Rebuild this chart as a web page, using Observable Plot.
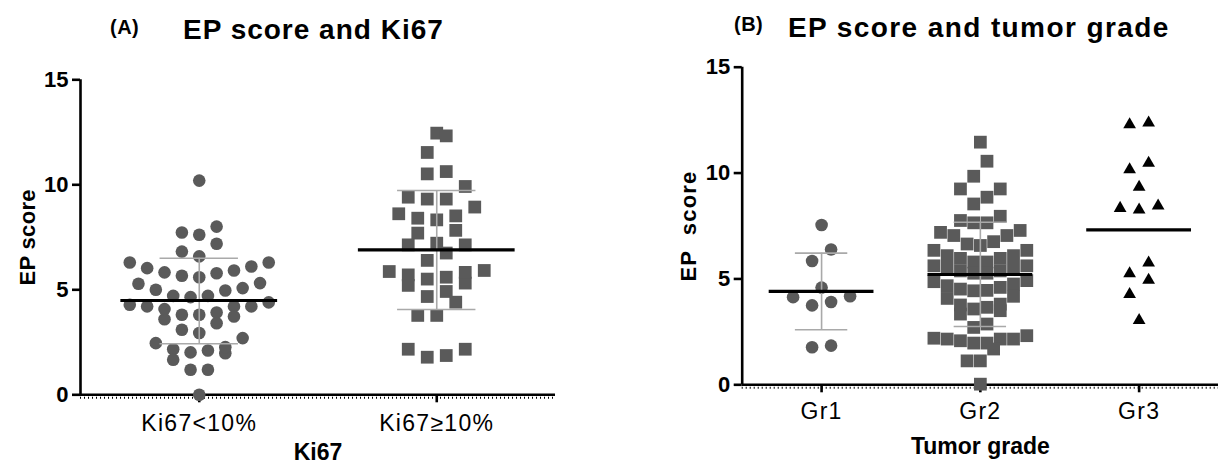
<!DOCTYPE html>
<html>
<head>
<meta charset="utf-8">
<script src="https://cdn.jsdelivr.net/npm/d3@7"></script>
<script src="https://cdn.jsdelivr.net/npm/@observablehq/plot@0.6"></script>
<style>
html, body { margin: 0; padding: 0; background: #fff; }
#wrap { position: relative; width: 1222px; height: 466px; overflow: hidden; font-family: "Liberation Sans", Arial, sans-serif; color: #000; }
.t { position: absolute; font-weight: bold; white-space: nowrap; line-height: 1; }
.panel { position: absolute; }
.panel g[aria-label="y-axis tick label"] { font-size: 22px; font-weight: bold; }
.panel g[aria-label="y-axis label"] { font-size: 22px; font-weight: bold; letter-spacing: 0.3px; }
.panel g[aria-label="x-axis tick label"] { font-size: 23px; letter-spacing: 1.3px; font-weight: normal; }
.panel g[aria-label="x-axis label"] { font-size: 23px; font-weight: bold; }
#pb g[aria-label="y-axis label"] { letter-spacing: 1.2px; }
</style>
</head>
<body>
<div id="wrap">
  <div class="t" style="left:110px;top:17px;font-size:20px;letter-spacing:0.5px">(A)</div>
  <div class="t" style="left:183px;top:16px;font-size:28px;letter-spacing:1px">EP score and Ki67</div>
  <div class="t" style="left:734px;top:14px;font-size:20px;letter-spacing:0.5px">(B)</div>
  <div class="t" style="left:788px;top:14px;font-size:28px;letter-spacing:1.4px">EP score and tumor grade</div>
  <div id="pa" class="panel" style="left:0px;top:60px"></div>
  <div id="pb" class="panel" style="left:620px;top:50px"></div>
</div>
<script>
// ---------- Panel A: EP score by Ki67 ----------
const ki67Groups = ["Ki67<10%", "Ki67≥10%"];
const ki67Low = [10.2, 7.73, 7.62, 8.01, 7.19, 6.82, 6.59, 6.30, 6.03, 5.79,
  5.67, 5.60, 5.83, 5.92, 6.11, 6.30, 5.29, 5.08, 4.97, 4.71,
  4.40, 4.65, 4.71, 5.00, 5.32, 4.21, 4.21, 3.92, 3.81, 3.60,
  3.41, 3.73, 3.81, 4.08, 4.21, 4.29, 2.94, 2.46, 2.11, 1.98,
  2.17, 2.27, 2.70, 3.10, 1.67, 2.02, 1.19, 1.19, 0.0];
const ki67High = [12.46, 12.33, 11.54, 10.63, 10.52, 9.92, 9.41, 9.32, 9.32, 8.94,
  8.62, 8.41, 8.33, 8.52, 7.83, 7.70, 7.22, 7.14, 7.14, 6.75,
  6.40, 5.87, 5.92, 5.60, 5.32, 5.51, 5.71, 5.83, 5.21, 4.92,
  4.68, 4.41, 3.78, 3.78, 2.17, 1.79, 1.87, 2.17];
const ki67Mean = [4.49, 6.90];
const ki67SdLow = [2.43, 4.06];
const ki67SdHigh = [6.50, 9.73];

// ---------- Panel B: EP score by tumor grade ----------
const gradeGroups = ["Gr1", "Gr2", "Gr3"];
const grade1 = [7.55, 6.39, 5.85, 4.59, 4.18, 3.91, 3.75, 4.14, 1.77, 1.85];
const grade2 = [11.46, 10.56, 9.85, 9.25, 9.25, 8.86, 8.54, 7.96, 7.65, 7.65,
  7.76, 7.20, 7.05, 7.05, 7.29, 6.76, 6.58, 6.65,
  6.35, 6.10, 5.97, 5.80, 5.80, 5.97, 6.10, 6.35,
  5.62, 5.50, 5.38, 5.27, 5.27, 5.38, 5.50, 5.62,
  4.92, 4.76, 4.60, 4.46, 4.44, 4.52, 4.68, 4.87,
  4.18, 3.77, 3.66, 3.50, 3.34, 3.58, 3.81, 4.08,
  2.87, 2.71, 2.32, 2.16, 2.16, 2.16, 2.20, 2.08, 1.97, 1.69, 1.97,
  1.13, 1.13, 0.03];
const grade3 = [12.29, 12.37, 10.47, 10.16, 9.34, 8.34, 8.26, 8.45, 5.76, 5.25, 4.94, 4.27, 3.04];
const gradeMean = [4.41, 5.21, 7.32];
const gradeSdLow = [2.60, 2.75, null];
const gradeSdHigh = [6.22, 7.68, null];

const yTicks = [0, 5, 10, 15];
const yMax = 15;

// Prism-like column scatter: sorted values grouped into rows, each row centred,
// lowest value in the middle and the others alternating outwards.
function spread(values, ky, stepPx) {
  const rowH = 17, maxGap = 19, minGap = 13.2, maxSpan = 0.585 * stepPx;
  const cap = Math.floor(maxSpan / minGap) + 1;
  const order = d3.range(values.length).sort((a, b) => values[a] - values[b]);
  const rows = [];
  let row = null;
  for (const i of order) {
    if (!row || row.length >= cap || (values[i] - values[row[0]]) * ky >= rowH) rows.push(row = []);
    row.push(i);
  }
  const nmax = d3.max(rows, r => r.length);
  const gap = nmax > 1 ? Math.min(maxGap, maxSpan / (nmax - 1)) : maxGap;
  const off = new Array(values.length);
  for (const I of rows) {
    const n = I.length;
    const slots = d3.range(n).map(k => (k - (n - 1) / 2) * gap)
      .sort((a, b) => Math.abs(a) - Math.abs(b) || a - b);
    I.forEach((i, k) => { off[i] = slots[k]; });
  }
  return off;
}

function panel(cfg) {
  const {groups, series, symbols, fills, radii, means, sdLow, sdHigh, yLabel, xLabel,
    width, height, ml, mr, mt, mb, tickPad, xLabelOffset, yLabelOffset} = cfg;
  const xDomain = [-0.5, groups.length - 0.5];
  const kx = (width - ml - mr) / (xDomain[1] - xDomain[0]);
  const ky = (height - mt - mb) / yMax;
  const points = series.flatMap((vals, g) => {
    const off = spread(vals, ky, kx);
    return vals.map((v, j) => ({g, v, x: g + off[j] / kx}));
  });
  const summary = groups.map((name, g) => ({g, mean: means[g], lo: sdLow[g], hi: sdHigh[g]}));
  const bars = summary.filter(d => d.lo != null);
  const cap = 0.165, half = 0.33, grey = "#a9a9a9";
  return Plot.plot({
    width, height,
    marginLeft: ml, marginRight: mr, marginTop: mt, marginBottom: mb,
    x: {domain: xDomain, axis: null},
    y: {domain: [0, yMax], axis: null},
    style: {fontFamily: '"Liberation Sans", Arial, sans-serif', fontSize: "22px", color: "#000", background: "#fff", overflow: "visible"},
    marks: [
      Plot.ruleX([xDomain[0]], {stroke: "#000", strokeWidth: 2.6}),
      Plot.ruleY([0], {stroke: "#000", strokeWidth: 2.6}),
      Plot.ruleY([0], {stroke: "#000", strokeWidth: 2, dy: 3, strokeDasharray: "1,3"}),
      Plot.axisY({ticks: yTicks, tickSize: 8, tickPadding: 4, strokeWidth: 2.6,
        label: yLabel, labelAnchor: "center", labelArrow: "none", labelOffset: yLabelOffset}),
      Plot.axisX({ticks: groups.map((_, i) => i), tickFormat: i => groups[i], tickSize: 8,
        tickPadding: tickPad, strokeWidth: 2.6, label: xLabel,
        labelAnchor: "center", labelArrow: "none", labelOffset: xLabelOffset}),
      ...series.map((_, g) => Plot.dot(points.filter(p => p.g === g), {
        x: "x", y: "v", symbol: symbols[g], r: radii[g], fill: fills[g], stroke: "none"})),
      Plot.ruleX(bars, {x: "g", y1: "lo", y2: "hi", stroke: grey, strokeWidth: 1.6}),
      Plot.ruleY(bars, {y: "lo", x1: d => d.g - cap, x2: d => d.g + cap, stroke: grey, strokeWidth: 1.6}),
      Plot.ruleY(bars, {y: "hi", x1: d => d.g - cap, x2: d => d.g + cap, stroke: grey, strokeWidth: 1.6}),
      Plot.ruleY(summary, {y: "mean", x1: d => d.g - half, x2: d => d.g + half, stroke: "#000", strokeWidth: 3.2})
    ]
  });
}

document.getElementById("pa").append(panel({
  groups: ki67Groups, series: [ki67Low, ki67High],
  symbols: ["circle", "square"], fills: ["#5a5a5a", "#5a5a5a"], radii: [6.3, 7.2],
  means: ki67Mean, sdLow: ki67SdLow, sdHigh: ki67SdHigh,
  yLabel: "EP score", xLabel: "Ki67",
  width: 575, height: 406, ml: 80, mr: 20, mt: 19.3, mb: 71.7,
  tickPad: 12, xLabelOffset: 65, yLabelOffset: 61
}));

document.getElementById("pb").append(panel({
  groups: gradeGroups, series: [grade1, grade2, grade3],
  symbols: ["circle", "square", "triangle"], fills: ["#5a5a5a", "#5a5a5a", "#000"], radii: [6.3, 7.2, 4.72],
  means: gradeMean, sdLow: gradeSdLow, sdHigh: gradeSdHigh,
  yLabel: "EP\u00a0\u00a0score", xLabel: "Tumor grade",
  width: 602, height: 416, ml: 121.7, mr: 4, mt: 16.7, mb: 81.7,
  tickPad: 10, xLabelOffset: 69, yLabelOffset: 62
}));
</script>
</body>
</html>
